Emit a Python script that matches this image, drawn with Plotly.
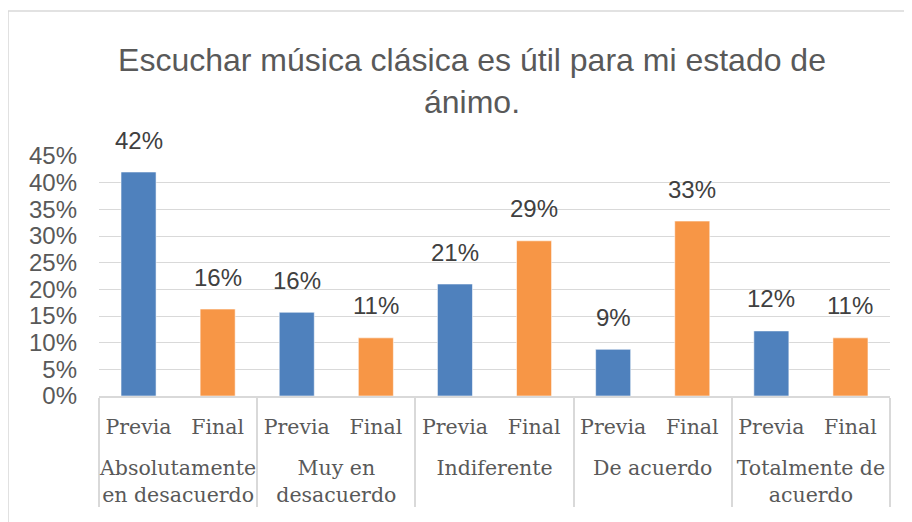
import plotly.graph_objects as go

title_text = "Escuchar música clásica es útil para mi estado de<br>ánimo."
groups = [
    "Absolutamente<br>en desacuerdo",
    "Muy en<br>desacuerdo",
    "Indiferente",
    "De acuerdo",
    "Totalmente de<br>acuerdo",
]
series_names = ["Previa", "Final"]
previa = [0.420, 0.157, 0.210, 0.0875, 0.122]
final = [0.163, 0.109, 0.291, 0.328, 0.109]
series_colors = {"Previa": "#4F81BD", "Final": "#F79646"}
y_ticks = [0, 0.05, 0.10, 0.15, 0.20, 0.25, 0.30, 0.35, 0.40, 0.45]

x_group, x_sub, vals, cols = [], [], [], []
for g, p, f in zip(groups, previa, final):
    for name, v in zip(series_names, (p, f)):
        x_group.append(g)
        # trailing blank line gives the extra space between the two label levels
        x_sub.append(name + "<br>&nbsp;")
        vals.append(v)
        cols.append(series_colors[name])

fig = go.Figure()
fig.add_trace(go.Bar(
    x=[x_group, x_sub],
    y=vals,
    marker=dict(color=cols, line=dict(color="rgba(255,255,255,0.55)", width=1)),
    hoverinfo="skip",
))

for i, v in enumerate(vals):
    fig.add_annotation(
        x=i, y=v, xref="x", yref="y",
        text=f"{v*100:.0f}%",
        showarrow=False, yanchor="middle", yshift=32,
        font=dict(family="Liberation Sans, Arial", size=24, color="#404040"),
    )

# chart border (outer frame)
fig.add_shape(type="rect", xref="paper", yref="paper",
              x0=-0.115, x1=1.2, y0=-0.7, y1=1.604,
              line=dict(color="#D9D9D9", width=1.5), fillcolor="rgba(0,0,0,0)", layer="below")

fig.update_layout(
    width=912, height=522,
    margin=dict(l=91, r=30, t=148, b=134),
    paper_bgcolor="white", plot_bgcolor="white",
    showlegend=False,
    bargap=0.557,
    title=dict(
        text=title_text,
        x=0.5088, xanchor="center", xref="container",
        y=1 - 63 / 522, yanchor="top", yref="container",
        font=dict(family="Liberation Sans, Arial", size=32, color="#595959"),
    ),
    yaxis=dict(
        range=[0, 0.45], tickvals=y_ticks, tickformat=".0%",
        showgrid=True, gridcolor="#D9D9D9", gridwidth=1.3,
        zeroline=False, showline=False, ticks="",
        ticklabelstandoff=21,
        tickfont=dict(family="Liberation Sans, Arial", size=24, color="#595959"),
    ),
    xaxis=dict(
        type="multicategory",
        showline=True, linecolor="#D9D9D9", linewidth=1.5,
        showdividers=True, dividercolor="#D9D9D9", dividerwidth=1.5,
        ticks="",
        ticklabelstandoff=12,
        tickfont=dict(family="DejaVu Serif", size=20.5, color="#595959"),
    ),
)

fig.write_html("out.html")
